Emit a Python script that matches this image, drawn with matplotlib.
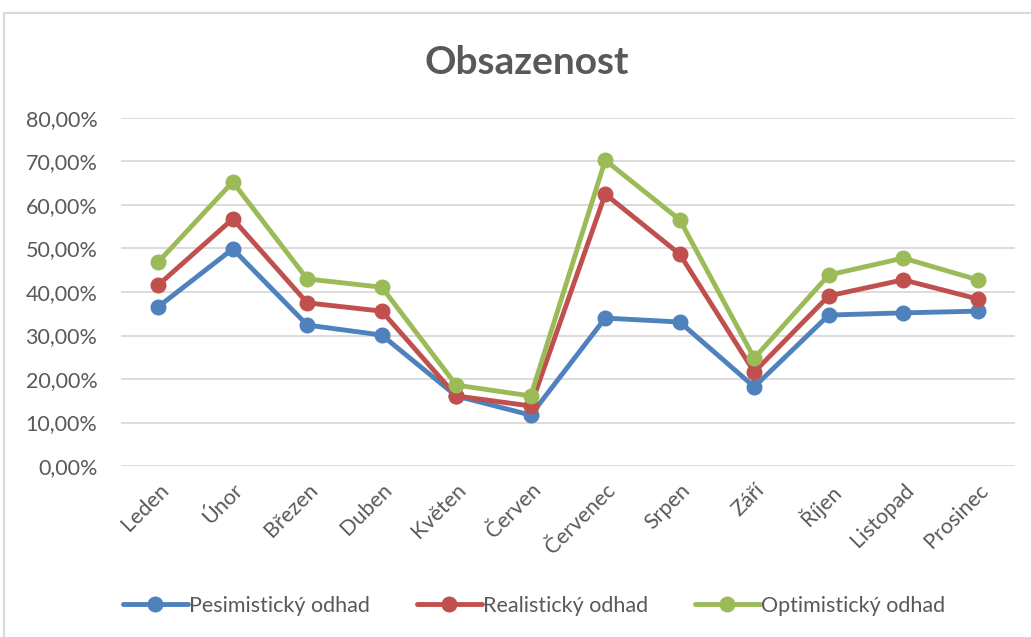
import matplotlib
matplotlib.use("Agg")
import matplotlib.pyplot as plt
from matplotlib.patches import Rectangle
from matplotlib.ticker import FuncFormatter, MultipleLocator

months = ["Leden", "Únor", "Březen", "Duben", "Květen", "Červen", "Červenec",
          "Srpen", "Září", "Říjen", "Listopad", "Prosinec"]
pesimisticky = [36.6, 49.9, 32.4, 30.1, 16.1, 11.7, 34.0, 33.1, 18.2, 34.7, 35.2, 35.6]
realisticky = [41.6, 56.8, 37.5, 35.6, 16.1, 13.8, 62.5, 48.7, 21.6, 39.1, 42.8, 38.4]
optimisticky = [46.9, 65.3, 43.0, 41.1, 18.6, 16.1, 70.3, 56.6, 24.8, 43.9, 47.8, 42.8]
series_names = ["Pesimistický odhad", "Realistický odhad", "Optimistický odhad"]
colors = ["#4F81BD", "#C0504D", "#9BBB59"]

FONT = ["Lato", "DejaVu Sans"]
plt.rcParams['font.family'] = FONT
TXT = "#595959"

W, H = 1031, 637
fig = plt.figure(figsize=(W / 100, H / 100), dpi=100)

# outer chart frame
fig.patches.append(Rectangle((4 / W, -0.05), 1.1, (H - 13) / H + 0.05,
                             transform=fig.transFigure, fill=False,
                             edgecolor="#D9D9D9", linewidth=1.5))

ax = fig.add_axes([121 / W, (H - 466) / H, (1015 - 121) / W, (466 - 118) / H])
x = list(range(len(months)))
for vals, name, c in zip([pesimisticky, realisticky, optimisticky], series_names, colors):
    ax.plot(x, [v / 100 for v in vals], color=c, linewidth=3.5, marker='o',
            markersize=10.5, label=name, solid_capstyle='round', solid_joinstyle='round')

ax.set_xlim(-0.5, len(months) - 0.5)
ax.set_ylim(0, 0.8)
ax.yaxis.set_major_locator(MultipleLocator(0.1))
ax.yaxis.set_major_formatter(FuncFormatter(lambda v, p: f"{v*100:.2f}".replace(".", ",") + "%"))
ax.grid(axis='y', color="#D9D9D9", linewidth=1.3)
ax.set_axisbelow(True)
for s in ax.spines.values():
    s.set_visible(False)
ax.tick_params(axis='both', length=0, colors=TXT, labelsize=15.5)
ax.tick_params(axis='y', pad=17)
ax.set_xticks(x)
ax.set_xticklabels(months, rotation=45, ha='right', va='top', rotation_mode='anchor')
ax.tick_params(axis='x', pad=10)

fig.text(527 / W, 1 - 62 / H, "Obsazenost", ha='center', va='center',
         fontsize=28, fontweight='bold', color=TXT)

leg = fig.legend(loc='center', bbox_to_anchor=(534 / W, 1 - 606 / H), ncol=3,
                 frameon=False, fontsize=15.5, handlelength=3.0, handletextpad=0.05,
                 columnspacing=2.2, labelcolor=TXT)

fig.savefig("out.png", dpi=100, facecolor="white")
